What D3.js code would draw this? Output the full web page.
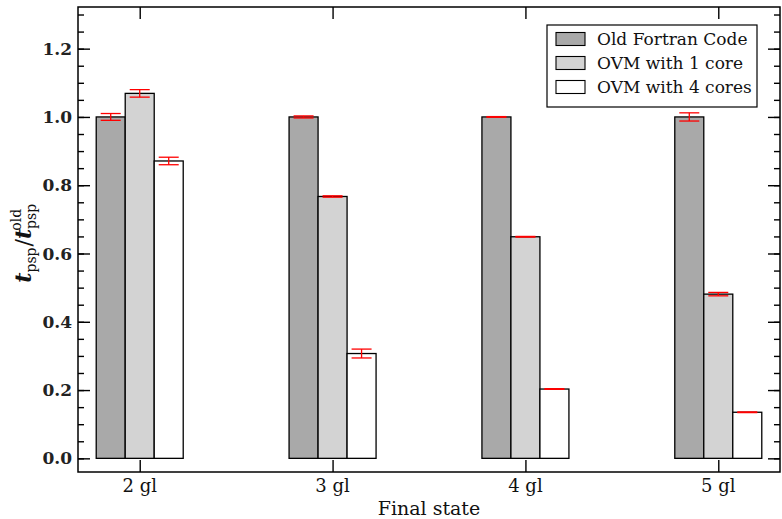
<!DOCTYPE html>
<html>
<head>
<style>
  body {
    margin: 0;
    background-color: #fff;
  }
  text {
    font-family: "DejaVu Serif", serif;
  }
</style>
<script src="https://d3js.org/d3.v7.min.js"></script>
</head>
<body>
<script>
// data
const categories = ['2 gl', '3 gl', '4 gl', '5 gl'];
const seriesNames = ['Old Fortran Code', 'OVM with 1 core', 'OVM with 4 cores'];
const seriesColors = ['#a9a9a9', '#d3d3d3', '#ffffff'];
const oldFortran = [1.0, 1.0, 1.0, 1.0];
const ovm1 = [1.069, 0.767, 0.649, 0.481];
const ovm4 = [0.871, 0.307, 0.203, 0.135];
const oldFortranErr = [0.010, 0.003, 0.001, 0.012];
const ovm1Err = [0.011, 0.002, 0.001, 0.005];
const ovm4Err = [0.011, 0.013, 0.001, 0.001];
const yTicks = [0.0, 0.2, 0.4, 0.6, 0.8, 1.0, 1.2];

const width = 782, height = 519;
const margin = { left: 78, right: 2, top: 7, bottom: 47 };

const svg = d3.select('body')
  .append('svg')
  .attr('width', width)
  .attr('height', height);

const x = d3.scaleLinear()
  .domain([-0.32, categories.length - 1 + 0.32])
  .range([margin.left, width - margin.right]);

const y = d3.scaleLinear()
  .domain([-0.04, 1.322])
  .range([height - margin.bottom, margin.top]);

const barW = 29;
const values = [oldFortran, ovm1, ovm4];
const errors = [oldFortranErr, ovm1Err, ovm4Err];

// bars
values.forEach((vals, s) => {
  svg.append('g').selectAll('rect')
    .data(vals)
    .join('rect')
    .attr('x', (d, i) => x(i) + (s - 1.5) * barW)
    .attr('y', d => y(d))
    .attr('width', barW)
    .attr('height', d => y(0) - y(d))
    .attr('fill', seriesColors[s])
    .attr('stroke', '#000')
    .attr('stroke-width', 1.3);
});

// error bars
values.forEach((vals, s) => {
  const g = svg.append('g')
    .attr('stroke', '#f00')
    .attr('stroke-width', 1.3);
  vals.forEach((v, i) => {
    const cx = x(i) + (s - 1) * barW;
    const e = errors[s][i];
    g.append('line')
      .attr('x1', cx).attr('x2', cx)
      .attr('y1', y(v + e)).attr('y2', y(v - e));
    [v + e, v - e].forEach(c => {
      g.append('line')
        .attr('x1', cx - 10).attr('x2', cx + 10)
        .attr('y1', y(c)).attr('y2', y(c));
    });
  });
});

// frame
svg.append('rect')
  .attr('x', margin.left)
  .attr('y', margin.top)
  .attr('width', width - margin.left - margin.right)
  .attr('height', height - margin.top - margin.bottom)
  .attr('fill', 'none')
  .attr('stroke', '#000')
  .attr('stroke-width', 1.5);

// y axis, left and right, inward ticks
const minorTicks = d3.range(0, 1.31, 0.05);
const leftAxis = d3.axisRight(y).tickValues(yTicks).tickSize(12).tickFormat('');
const leftMinor = d3.axisRight(y).tickValues(minorTicks).tickSize(6).tickFormat('');
const rightAxis = d3.axisLeft(y).tickValues(yTicks).tickSize(12).tickFormat('');
const rightMinor = d3.axisLeft(y).tickValues(minorTicks).tickSize(6).tickFormat('');

[[leftAxis, margin.left], [leftMinor, margin.left],
 [rightAxis, width - margin.right], [rightMinor, width - margin.right]].forEach(([ax, tx]) => {
  const g = svg.append('g')
    .attr('transform', `translate(${tx},0)`)
    .call(ax);
  g.select('.domain').remove();
  g.selectAll('line').attr('stroke-width', 1.4);
});

// y tick labels
svg.append('g').selectAll('text')
  .data(yTicks)
  .join('text')
  .attr('x', margin.left - 6)
  .attr('y', d => y(d))
  .attr('dy', '0.36em')
  .attr('text-anchor', 'end')
  .attr('font-size', 17)
  .attr('font-weight', 'bold')
  .attr('fill', '#222')
  .text(d => d.toFixed(1));

// x axis, bottom and top, inward ticks
const catIdx = d3.range(categories.length);
const bottomAxis = d3.axisTop(x).tickValues(catIdx).tickSize(12).tickFormat('');
const topAxis = d3.axisBottom(x).tickValues(catIdx).tickSize(12).tickFormat('');
[[bottomAxis, height - margin.bottom], [topAxis, margin.top]].forEach(([ax, ty]) => {
  const g = svg.append('g')
    .attr('transform', `translate(0,${ty})`)
    .call(ax);
  g.select('.domain').remove();
  g.selectAll('line').attr('stroke-width', 1.4);
});

svg.append('g').selectAll('text')
  .data(categories)
  .join('text')
  .attr('x', (d, i) => x(i))
  .attr('y', 492)
  .attr('text-anchor', 'middle')
  .attr('font-size', 18)
  .attr('fill', '#111')
  .text(d => d);

// axis titles
svg.append('text')
  .attr('x', (margin.left + width - margin.right) / 2)
  .attr('y', 515)
  .attr('text-anchor', 'middle')
  .attr('font-size', 19)
  .attr('fill', '#111')
  .text('Final state');

const yl = svg.append('text')
  .attr('transform', `translate(31,${y(0.63)}) rotate(-90)`)
  .attr('text-anchor', 'middle')
  .attr('font-size', 22)
  .attr('fill', '#111');
yl.append('tspan').attr('font-style', 'italic').attr('font-weight', 'bold').text('t');
yl.append('tspan').attr('font-size', 14).attr('baseline-shift', '-5').text('psp');
yl.append('tspan').attr('dx', 1).text('/');
yl.append('tspan').attr('font-style', 'italic').attr('font-weight', 'bold').text('t');
yl.append('tspan').attr('font-size', 14).attr('baseline-shift', '-5').text('psp');
yl.append('tspan').attr('font-size', 14).attr('dx', -27).attr('baseline-shift', '10').text('old');

// legend
const legend = svg.append('g').attr('transform', 'translate(547,25)');
legend.append('rect')
  .attr('width', 210)
  .attr('height', 82)
  .attr('fill', '#fff')
  .attr('stroke', '#000')
  .attr('stroke-width', 1.2);
seriesNames.forEach((name, s) => {
  const row = legend.append('g').attr('transform', `translate(0,${14 + s * 24})`);
  row.append('rect')
    .attr('x', 9).attr('y', -6.5)
    .attr('width', 29).attr('height', 13)
    .attr('fill', seriesColors[s])
    .attr('stroke', '#000')
    .attr('stroke-width', 1.1);
  row.append('text')
    .attr('x', 50)
    .attr('dy', '0.36em')
    .attr('font-size', 17)
    .attr('fill', '#111')
    .text(name);
});
</script>
</body>
</html>
